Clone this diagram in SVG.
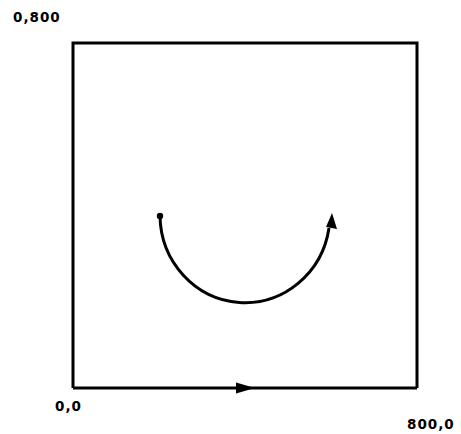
<svg xmlns="http://www.w3.org/2000/svg" width="461" height="434" viewBox="0 0 461 434">
<style>
.ln{fill:none;stroke:#000;stroke-width:3}
.lbl{font-family:"DejaVu Sans","Liberation Sans",sans-serif;font-size:13.5px;font-weight:bold;fill:#000;letter-spacing:1px}
</style>
<g id="frame">
<path class="ln" d="M73,388 L73,43 L417,43 L417,388"/>
</g>
<g id="connectors">
<path class="ln" d="M73,388 L417,388"/>
<path d="M236,382.5 L255,388 L236,393.5 z" fill="#000"/>
<path class="ln" d="M160,216 A85,88 0 0 0 329,228"/>
<circle cx="160" cy="216" r="3.2" fill="#000"/>
<path d="M332,213 L337,229 L326,227 z" fill="#000"/>
</g>
<g id="labels">
<text class="lbl" x="13" y="22">0,800</text>
<text class="lbl" x="55" y="411">0,0</text>
<text class="lbl" x="407" y="429">800,0</text>
</g>
</svg>
